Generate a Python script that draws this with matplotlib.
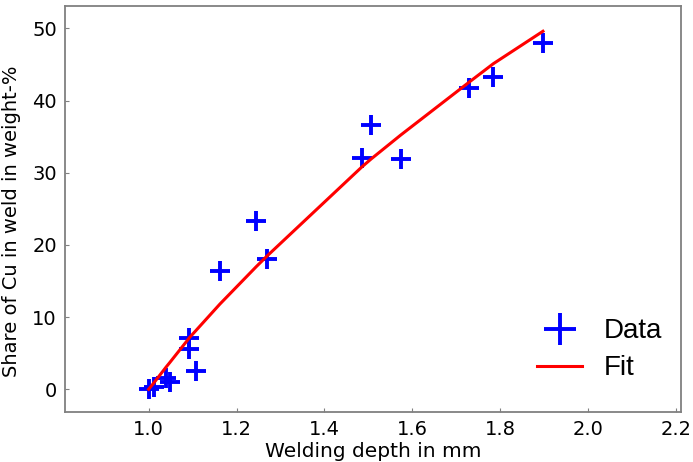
import matplotlib
matplotlib.use("Agg")
import matplotlib.pyplot as plt

# Measured points (welding depth in mm, Cu share in weight-%)
depth = [1.000, 1.012, 1.040, 1.048, 1.091, 1.092, 1.107, 1.162,
         1.245, 1.270, 1.485, 1.506, 1.573, 1.728, 1.784, 1.897]
cu_share = [0.0, 0.3, 1.6, 1.0, 7.1, 5.6, 2.5, 16.4,
            23.3, 18.1, 32.1, 36.6, 31.9, 41.7, 43.2, 48.0]

# Fit curve, evaluated at the same depths
fit_share = [0.0, 0.9, 3.1, 3.7, 7.0, 7.1, 8.1, 11.8,
             17.0, 18.5, 30.8, 31.9, 35.2, 42.5, 45.1, 49.6]

x_ticks = [1.0, 1.2, 1.4, 1.6, 1.8, 2.0, 2.2]
y_ticks = [0, 10, 20, 30, 40, 50]

fig = plt.figure(figsize=(6.93, 4.62), dpi=100)
ax = fig.add_axes([0.094, 0.109, 0.888, 0.878])

ax.plot(depth, cu_share, linestyle="none", marker="+", color="#0000ff",
        markersize=14, markeredgewidth=2.8, label="Data")
ax.plot(depth, fit_share, color="#ff0000", linewidth=2.2, label="Fit")

ax.set_xlim(0.81, 2.21)
ax.set_ylim(-3.1, 53.1)
ax.set_xticks(x_ticks)
ax.set_yticks(y_ticks)
ax.set_xticklabels(["%.1f" % t for t in x_ticks])

for side in ax.spines.values():
    side.set_color("#808080")
    side.set_linewidth(1.3)
ax.tick_params(direction="in", length=3, width=0.8, color="#808080",
               labelsize=14, pad=6)

ax.set_xlabel("Welding depth in mm", fontsize=14.5, labelpad=2)
ax.set_ylabel("Share of Cu in weld in weight-%", fontsize=14)
ax.yaxis.set_label_coords(-0.072, 0.47)

leg = ax.legend(loc="lower right", bbox_to_anchor=(1.0, 0.03), frameon=False,
                markerscale=1.6, handlelength=1.6,
                prop={"family": "Liberation Sans", "size": 20},
                borderaxespad=0.25, labelspacing=0.4, handletextpad=0.8)

fig.savefig("out.png", dpi=100)
